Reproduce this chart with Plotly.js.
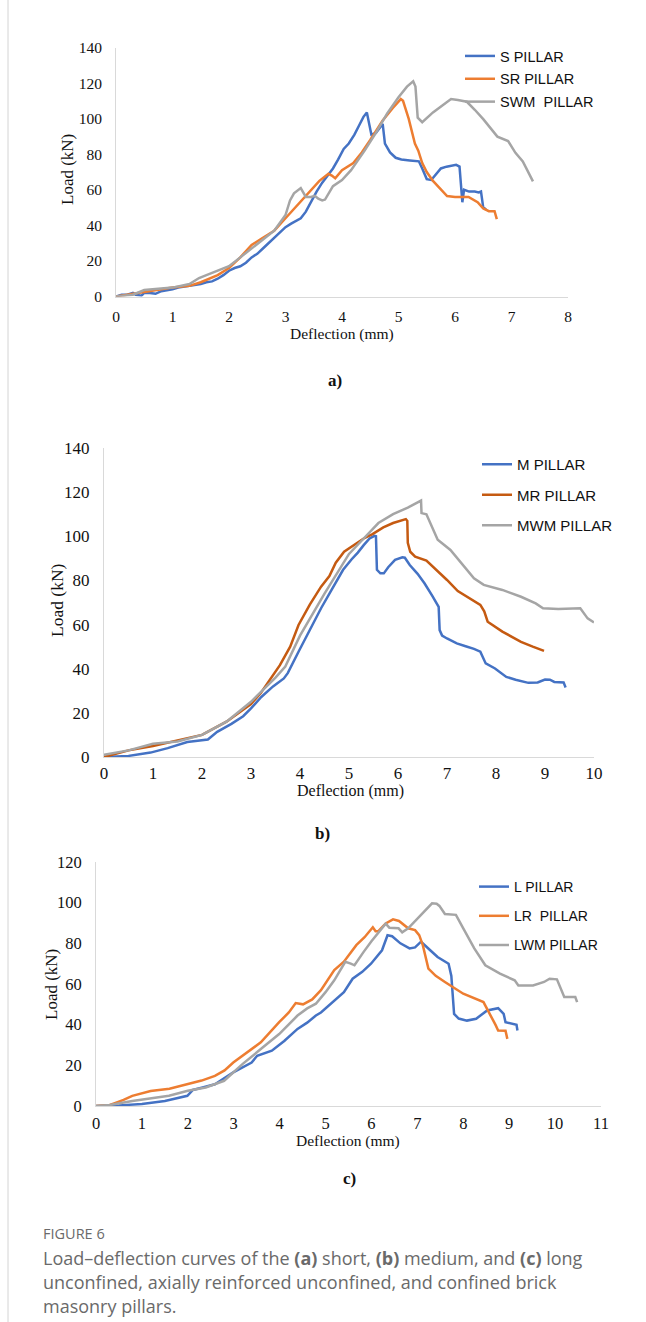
<!DOCTYPE html>
<html>
<head>
<meta charset="utf-8">
<script src="https://cdn.plot.ly/plotly-3.0.1.min.js"></script>
<style>html,body{margin:0;padding:0;background:#fff;}#chart{width:646px;height:1322px;}</style>
</head>
<body>
<div id="chart"></div>
<script>
// ---------- (a) short pillars ----------
var sX = [0,0.1,0.2,0.3,0.35,0.45,0.5,0.6,0.7,0.8,0.9,1.0,1.1,1.2,1.3,1.4,1.5,1.6,1.7,1.8,1.9,2.0,2.1,2.2,2.3,2.4,2.5,2.6,2.7,2.8,2.9,3.0,3.1,3.2,3.27,3.36,3.46,3.55,3.65,3.75,3.84,3.93,4.03,4.12,4.22,4.3,4.38,4.44,4.52,4.6,4.68,4.72,4.76,4.85,4.95,5.05,5.2,5.36,5.42,5.5,5.58,5.67,5.75,5.85,5.95,6.02,6.08,6.11,6.13,6.16,6.25,6.35,6.42,6.46,6.5,6.55];
var sY = [0,1,1,2,1,0.5,2,2,1.5,3,3.5,4,5,5.5,6,6.5,7,8,8.5,10,12,14.5,16,17,19,22,24,27,30,33,36,39,41,43,44,47.7,54,59,64,68,72,77,83,86,91,96,101,103.5,91,92,95,97,86,81,78,77,76.5,76,72,66,65.5,69,72,73,73.5,74,73,60,53,60,59,59,58.5,59,50,49];
var srX = [0,0.2,0.5,0.8,1.0,1.3,1.5,1.8,2.0,2.2,2.4,2.6,2.8,3.0,3.2,3.4,3.6,3.76,3.82,3.88,4.0,4.2,4.35,4.5,4.72,4.9,5.04,5.08,5.18,5.29,5.35,5.42,5.5,5.61,5.7,5.86,6.0,6.24,6.4,6.5,6.6,6.7,6.74];
var srY = [0,1,2.5,4,5,6,8,12,16,22,29,33,37,44,51,58,65,69,68,66.5,71,75,81,88,99,106,111,110,100,86,82,75,70,65,62,56.5,56,56,53,49.5,48,48,43.5];
var swmX = [0,0.3,0.5,0.8,1.0,1.3,1.47,1.6,1.82,2.0,2.2,2.4,2.6,2.8,3.0,3.08,3.15,3.27,3.36,3.45,3.52,3.58,3.65,3.7,3.84,4.0,4.16,4.4,4.6,4.8,5.0,5.15,5.26,5.3,5.34,5.42,5.61,5.8,5.93,6.05,6.21,6.35,6.5,6.75,6.94,7.07,7.2,7.38];
var swmY = [0,1,3.6,4.5,5,7,10.4,12,14.6,17,22,27,32,37,45.8,54,58,61,56,56,56.6,55,54,54.5,62,65.5,71,82,92,103,112,118,121,118,100.6,98,103.5,108,111,110.5,109.5,105,99.7,89.9,87.4,80.8,76,64.7];

// ---------- (b) medium pillars ----------
var mX = [0,0.5,0.95,1.3,1.7,2.0,2.12,2.31,2.6,2.84,3.0,3.21,3.45,3.67,3.75,3.97,4.2,4.43,4.65,4.88,5.05,5.18,5.3,5.42,5.52,5.55,5.57,5.64,5.71,5.8,5.94,6.09,6.14,6.24,6.4,6.54,6.7,6.81,6.83,6.85,6.9,7.0,7.2,7.38,7.55,7.68,7.79,7.98,8.21,8.4,8.51,8.66,8.85,9.0,9.1,9.19,9.38,9.4,9.42];
var mY = [0,0.5,2,4,6.8,7.5,7.9,11.4,15,18.5,22,27.2,32,35.6,38,47.7,57.5,67.4,76,84.8,89.5,92.6,96,99,100.2,100,84.8,83.2,83.2,86,89.3,90.5,90.3,87,83,78.7,73,69,68,57.5,55,53.7,51.5,50.2,49,47.7,42.4,40.1,36.3,35,34.5,33.6,33.8,35.1,35,34,33.8,32.5,31.5];
var mrX = [0,0.5,1.0,1.5,2.0,2.5,3.0,3.2,3.59,3.8,3.97,4.2,4.43,4.6,4.73,4.9,5.1,5.3,5.48,5.7,5.9,6.1,6.16,6.19,6.2,6.25,6.35,6.58,6.8,7.0,7.22,7.45,7.68,7.76,7.83,8.13,8.51,8.75,8.98];
var mrY = [0,3,5,7.5,10,16,24,29,41.6,50,59.8,69,77.2,82,88,93,96,99,101,104,106,107.5,107.8,107,97,93,90.8,89,84.5,80.2,75.2,72,68.9,66,61.3,56.8,52.2,50,48.1];
var mwmX = [0,0.5,1.0,1.5,2.0,2.5,3.0,3.5,3.7,4.0,4.5,5.0,5.3,5.6,5.9,6.2,6.47,6.48,6.58,6.7,6.81,7.07,7.38,7.55,7.75,8.13,8.51,8.81,8.96,9.27,9.72,9.87,10.0];
var mwmY = [1,3,6,7,10,16,25,36,41,55,74,92,99,106,110,113,116.2,110.5,110,104,98.4,93.8,85.5,81,78,75.7,72.6,69.6,67.4,67,67.4,62.8,61];

// ---------- (c) long pillars ----------
var lX = [0,0.5,1.0,1.5,1.99,2.11,2.3,2.59,2.99,3.2,3.39,3.51,3.83,4.1,4.39,4.6,4.79,4.9,5.19,5.4,5.59,5.8,5.99,6.23,6.35,6.45,6.63,6.83,6.95,7.08,7.28,7.44,7.68,7.74,7.8,7.9,8.08,8.28,8.52,8.65,8.76,8.88,8.92,9.16,9.18];
var lY = [0,0.3,1,2.5,5,7.9,9,10.7,16.5,19,21.4,24.7,27.2,32,37.9,41,44.5,46,51.9,56,62.6,66,70,76.6,84,83.5,80,77.5,78,80.8,76.6,73.3,70,64,45.3,43,42,42.9,47,47.5,48.1,45.3,41.2,39.9,37.1];
var lrX = [0,0.3,0.38,0.6,0.79,1.19,1.6,1.99,2.3,2.59,2.8,2.99,3.3,3.59,3.99,4.2,4.35,4.51,4.71,4.9,5.19,5.4,5.67,5.85,6.03,6.09,6.15,6.31,6.47,6.6,6.8,6.95,7.04,7.12,7.24,7.4,7.6,8.0,8.44,8.56,8.7,8.76,8.92,8.96];
var lrY = [0,0.5,1.2,3,5,7.4,8.5,10.7,12.5,14.8,17.5,21.4,26.5,31.3,41.2,46,50.6,50,52.4,57,66.8,71,79.1,83,87.9,86,86,89.8,91.8,91,87.4,86.5,84,79,67.6,64,61,55.2,51.1,46.2,40,37.1,37,33];
var lwmX = [0,0.3,0.79,1.2,1.59,2.0,2.39,2.79,3.19,3.59,3.99,4.39,4.6,4.79,5.0,5.19,5.43,5.55,5.63,5.83,6.0,6.31,6.39,6.59,6.67,6.8,7.12,7.32,7.42,7.48,7.6,7.84,8.0,8.24,8.48,8.8,9.12,9.2,9.52,9.76,9.88,10.04,10.2,10.44,10.48];
var lwmY = [0,0.5,2.5,3.8,5,7.5,9.1,12.4,20.6,28,35.4,44.5,48,50.3,56,61.8,70.9,70,69.2,75.8,81,89.7,87.7,87.4,85.4,87.4,95,99.7,99.5,98.4,94.4,94,87.4,77.5,69.2,65.1,61.8,59.3,59.3,61,62.6,62.3,53.6,53.6,51.1];

// ---------- names / labels ----------
var namesA = ["S PILLAR","SR PILLAR","SWM  PILLAR"];
var namesB = ["M PILLAR","MR PILLAR","MWM PILLAR"];
var namesC = ["L PILLAR","LR  PILLAR","LWM PILLAR"];
var panelLabels = ["a)","b)","c)"];
var xTitle = "Deflection (mm)";
var yTitle = "Load (kN)";
var captionHead = "FIGURE 6";
var captionLines = [
  "Load\u2013deflection curves of the <b>(a)</b> short, <b>(b)</b> medium, and <b>(c)</b> long",
  "unconfined, axially reinforced unconfined, and confined brick",
  "masonry pillars."
];

var W = 646, H = 1322;
function fx(p){ return p / W; }
function fy(p){ return 1 - p / H; }

var BLUE = "#4472C4", ORANGE = "#ED7D31", DORANGE = "#C55A11", GRAY = "#A5A5A5";
var LW = 2.5;

function tr(x, y, name, color, xa, ya, leg){
  return {x:x, y:y, name:name, type:"scatter", mode:"lines",
    line:{color:color, width:LW}, xaxis:xa, yaxis:ya, legend:leg, legendgroup:name,
    hoverinfo:"skip"};
}

var data = [
  tr(sX, sY, namesA[0], BLUE, "x", "y", "legend"),
  tr(srX, srY, namesA[1], ORANGE, "x", "y", "legend"),
  tr(swmX, swmY, namesA[2], GRAY, "x", "y", "legend"),
  tr(mX, mY, namesB[0], BLUE, "x2", "y2", "legend2"),
  tr(mrX, mrY, namesB[1], DORANGE, "x2", "y2", "legend2"),
  tr(mwmX, mwmY, namesB[2], GRAY, "x2", "y2", "legend2"),
  tr(lX, lY, namesC[0], BLUE, "x3", "y3", "legend3"),
  tr(lrX, lrY, namesC[1], ORANGE, "x3", "y3", "legend3"),
  tr(lwmX, lwmY, namesC[2], GRAY, "x3", "y3", "legend3")
];

var SERIF = "Liberation Serif, Times New Roman, serif";
function tf(sz){ return {family:SERIF, size:sz, color:"#111"}; }
function xax(dom, rng, anchor, fs, so){
  return {domain:dom, range:rng, anchor:anchor, dtick:1, tick0:0, showgrid:false, zeroline:false,
    showline:true, linecolor:"#d9d9d9", linewidth:1, ticks:"", tickfont:tf(fs), ticklabelstandoff:so, fixedrange:true};
}
function yax(dom, rng, anchor, fs){
  return {domain:dom, range:rng, anchor:anchor, dtick:20, tick0:0, showgrid:false, zeroline:false,
    showline:true, linecolor:"#d9d9d9", linewidth:1, ticks:"", tickfont:tf(fs), ticklabelstandoff:10, fixedrange:true};
}

function leg(px, py, gap, fs){
  return {x:fx(px), y:fy(py), xanchor:"left", yanchor:"top",
    font:{family:"Liberation Sans, Arial, sans-serif", size:fs, color:"#111"}, bgcolor:"rgba(0,0,0,0)",
    tracegroupgap:gap, itemwidth:30, traceorder:"grouped"};
}

function ann(text, px, py, font, extra){
  var a = {text:text, x:fx(px), y:fy(py), xref:"paper", yref:"paper", showarrow:false, font:font,
    xanchor:"center", yanchor:"middle"};
  if (extra) for (var k in extra) a[k] = extra[k];
  return a;
}

var labelFont = {family:SERIF, size:17, color:"#111"};
var capFont = {family:"Open Sans, Noto Sans, sans-serif", size:18, color:"#6a6a6a"};
var capHeadFont = {family:"Open Sans, Noto Sans, sans-serif", size:14.5, color:"#6a6a6a"};

var annotations = [
  ann(yTitle, 67, 170, tf(17), {textangle:-90}),
  ann(xTitle, 342, 334, tf(15.5)),
  ann(yTitle, 57, 600, tf(17.5), {textangle:-90}),
  ann(xTitle, 350, 791, tf(16)),
  ann(yTitle, 52, 985, tf(17), {textangle:-90}),
  ann(xTitle, 348, 1141, tf(15.5)),
  ann("<b>" + panelLabels[0] + "</b>", 335, 381, labelFont),
  ann("<b>" + panelLabels[1] + "</b>", 322, 833, labelFont),
  ann("<b>" + panelLabels[2] + "</b>", 349, 1178, labelFont),
  ann(captionHead, 41, 1233, capHeadFont, {xanchor:"left"}),
  ann(captionLines[0], 41, 1258, capFont, {xanchor:"left", align:"left"}),
  ann(captionLines[1], 41, 1282, capFont, {xanchor:"left", align:"left"}),
  ann(captionLines[2], 41, 1306, capFont, {xanchor:"left", align:"left"})
];

var layout = {
  width:W, height:H, margin:{l:0, r:0, t:0, b:0}, paper_bgcolor:"#fff", plot_bgcolor:"rgba(0,0,0,0)",
  showlegend:true,
  xaxis: xax([fx(116), fx(568)], [0, 8], "y", 15.5, 6),
  yaxis: yax([fy(296.5), fy(47.5)], [0, 140], "x", 15.5),
  xaxis2: xax([fx(104), fx(594)], [0, 10], "y2", 17, 1),
  yaxis2: yax([fy(757), fy(448)], [0, 140], "x2", 17),
  xaxis3: xax([fx(96), fx(601)], [0, 11], "y3", 16.5, 2),
  yaxis3: yax([fy(1106), fy(862)], [0, 120], "x3", 16.5),
  legend: leg(460, 40, 1, 14.5),
  legend2: leg(477, 448, 8, 15),
  legend3: leg(474, 871, 8, 14),
  annotations: annotations,
  shapes: [{type:"line", xref:"paper", yref:"paper", x0:fx(8), x1:fx(8), y0:0, y1:1, line:{color:"#d4d4d4", width:1}}]
};

Plotly.newPlot("chart", data, layout, {staticPlot:true, displayModeBar:false});
</script>
</body>
</html>
